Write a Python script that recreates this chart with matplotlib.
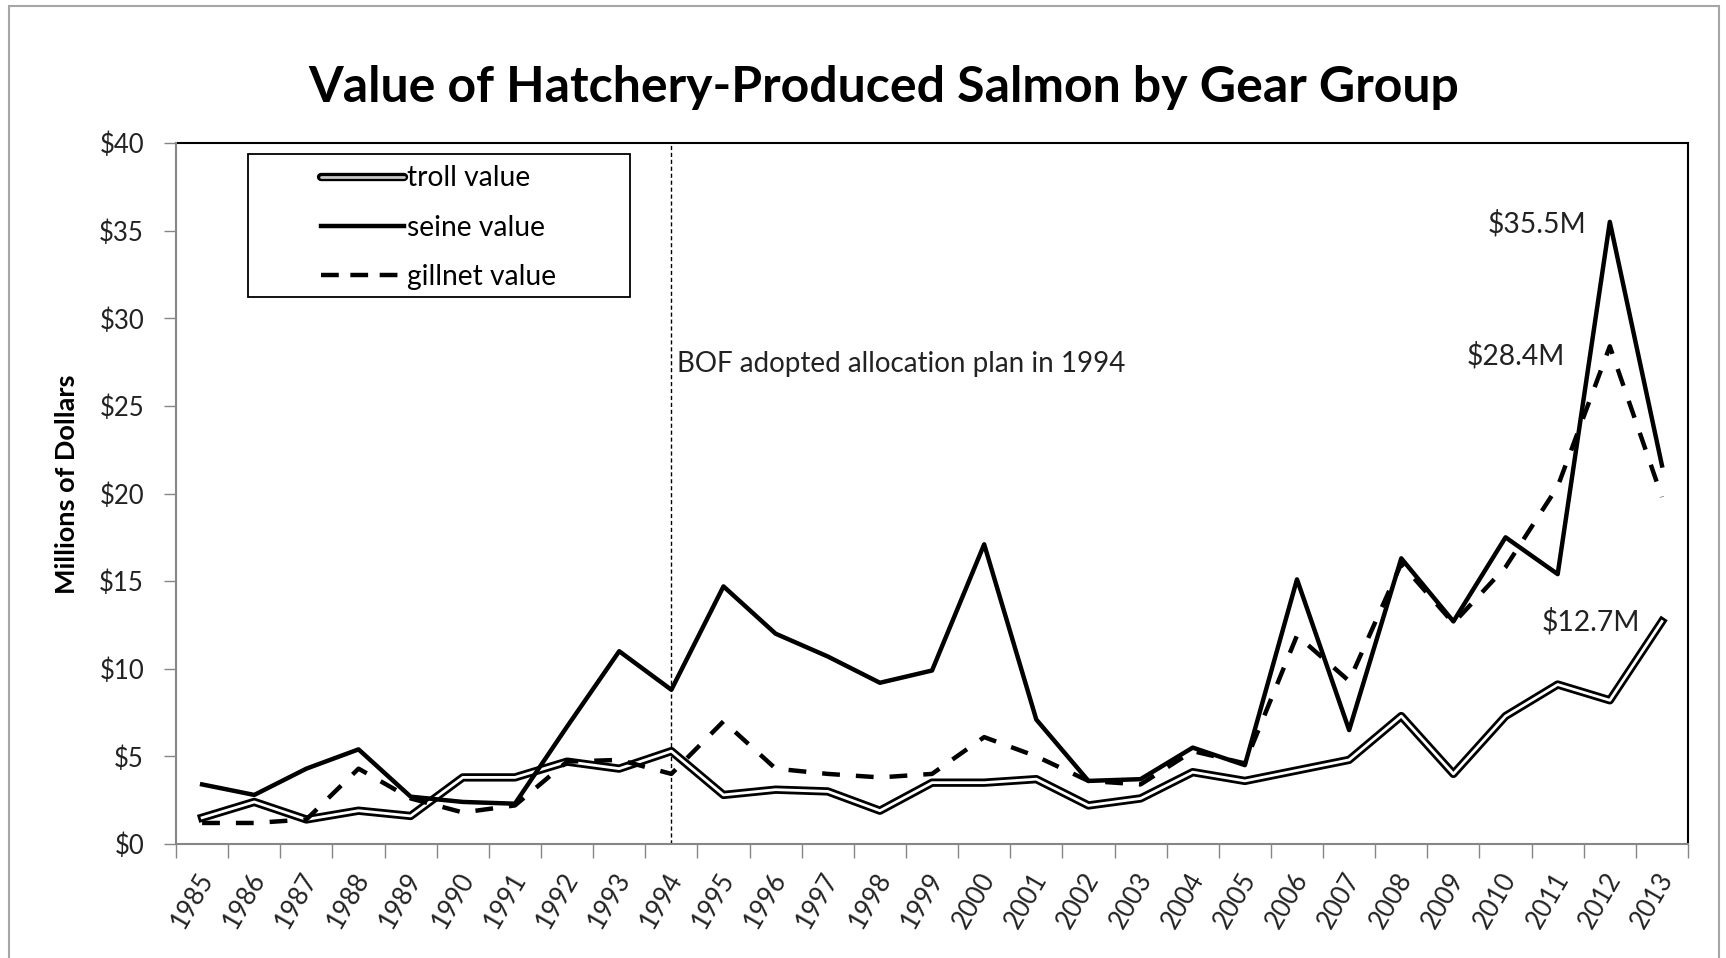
import numpy as np
import matplotlib
import matplotlib.pyplot as plt
import matplotlib.patheffects as pe
import matplotlib.transforms as mtransforms
from matplotlib.lines import Line2D
from matplotlib.patches import Rectangle
from matplotlib.ticker import FuncFormatter

matplotlib.use("Agg")

plt.rcParams["font.family"] = ["Lato", "DejaVu Sans"]

# Valor por año (millones de dólares)
years = [str(y) for y in range(1985, 2014)]
troll = [1.5, 2.4, 1.4, 1.9, 1.6, 3.8, 3.8, 4.7, 4.3, 5.3,
         2.8, 3.1, 3.0, 1.9, 3.5, 3.5, 3.7, 2.2, 2.6, 4.1,
         3.6, 4.2, 4.8, 7.3, 4.0, 7.3, 9.1, 8.2, 12.7]
seine = [3.4, 2.8, 4.3, 5.4, 2.7, 2.4, 2.3, 6.7, 11.0, 8.8,
         14.7, 12.0, 10.7, 9.2, 9.9, 17.1, 7.1, 3.6, 3.7, 5.5,
         4.5, 15.1, 6.5, 16.3, 12.7, 17.5, 15.4, 35.5, 21.6]
gillnet = [1.2, 1.2, 1.4, 4.3, 2.6, 1.8, 2.2, 4.7, 4.8, 4.0,
           7.0, 4.3, 4.0, 3.8, 4.0, 6.1, 5.0, 3.6, 3.4, 5.3,
           4.6, 11.9, 9.3, 16.0, 12.6, 15.8, 20.4, 28.4, 19.8]
plan_year = "1994"

x = np.arange(len(years))
fs_tick = 18.5
fs_text = 20.3

fig = plt.figure(figsize=(17.26, 9.58), dpi=100)
ax = fig.add_axes([0.1020, 0.1190, 0.9780 - 0.1020, 0.8507 - 0.1190])

# Borde exterior del gráfico
fig.patches.append(Rectangle((0.0052, -0.01), 0.9907, 1.0037, transform=fig.transFigure,
                             fill=False, edgecolor="#a6a6a6", linewidth=1.5))

# Serie troll: línea doble (borde negro, interior blanco)
troll_fx = [pe.Stroke(linewidth=6.0, foreground="black"), pe.Normal()]
ax.plot(x, troll, color="white", linewidth=2.0, path_effects=troll_fx, zorder=3)
ax.plot(x, gillnet, color="black", linewidth=3.2, dashes=(4, 3.6), zorder=4)
ax.plot(x, seine, color="black", linewidth=3.2, zorder=5)

# Línea del plan de asignación
ix = years.index(plan_year)
ax.axvline(ix, color="black", linewidth=1.0, linestyle=(0, (3, 2)), zorder=2)
ax.text(ix + 0.1, 27.4, "BOF adopted allocation plan in 1994", fontsize=20,
        ha="left", va="center", color="#222222")

# Etiquetas de valores máximos / finales
ax.annotate(f"${seine[27]}M", xy=(27, seine[27]), xytext=(-23, -2),
            textcoords="offset pixels", ha="right", va="center", fontsize=fs_text, color="#222222")
ax.annotate(f"${gillnet[27]}M", xy=(27, gillnet[27]), xytext=(-45, -9),
            textcoords="offset pixels", ha="right", va="center", fontsize=fs_text, color="#222222")
ax.annotate(f"${troll[28]}M", xy=(28, troll[28]), xytext=(-22, 0),
            textcoords="offset pixels", ha="right", va="center", fontsize=fs_text, color="#222222")

# Ejes
ax.set_xlim(-0.5, len(years) - 0.5)
ax.set_ylim(0, 40)
ax.set_yticks(np.arange(0, 41, 5))
ax.yaxis.set_major_formatter(FuncFormatter(lambda v, p: f"${v:.0f}"))
ax.tick_params(axis="y", length=9, width=1, color="#868686", labelsize=fs_tick,
               labelcolor="#222222", pad=14)

ax.set_xticks(np.arange(-0.5, len(years), 1))
ax.set_xticklabels([])
ax.set_xticks(x, minor=True)
ax.set_xticklabels(years, minor=True, rotation=60, ha="right", va="center",
                   rotation_mode="anchor", fontsize=fs_tick, color="#222222")
ax.tick_params(axis="x", which="major", length=10, width=1, color="#868686")
ax.tick_params(axis="x", which="minor", length=0, pad=22)
shift = mtransforms.ScaledTranslation(0.05, 0, fig.dpi_scale_trans)
for lbl in ax.get_xticklabels(minor=True):
    lbl.set_transform(lbl.get_transform() + shift)

for side in ("top", "right"):
    ax.spines[side].set_color("black")
    ax.spines[side].set_linewidth(1.5)
for side in ("left", "bottom"):
    ax.spines[side].set_color("#868686")
    ax.spines[side].set_linewidth(1.5)
    ax.spines[side].set_zorder(6)

# Leyenda
handles = [
    Line2D([], [], color="#c8c8c8", linewidth=2.0, solid_capstyle="round",
           path_effects=[pe.Stroke(linewidth=6.0, foreground="black", capstyle="round"), pe.Normal()]),
    Line2D([], [], color="black", linewidth=3.2),
    Line2D([], [], color="black", linewidth=3.2, dashes=(4, 2.6)),
]
ax.legend(handles, ["troll value", "seine value", "gillnet value"], loc="upper left",
          bbox_to_anchor=(0.0959, 0.968), frameon=False, borderpad=0, borderaxespad=0,
          handlelength=2.95, handletextpad=0.1, labelspacing=0.83, fontsize=fs_text)
ax.add_patch(Rectangle((0.0476, 0.7803), 0.3003 - 0.0476, 0.9843 - 0.7803,
                       transform=ax.transAxes, fill=False, edgecolor="black",
                       linewidth=1.3, zorder=7))

fig.text(0.512, 0.909, "Value of Hatchery-Produced Salmon by Gear Group",
         ha="center", va="center", fontsize=36, fontweight="bold", color="black")
fig.text(0.039, 0.495, "Millions of Dollars", rotation=90, ha="center", va="center",
         fontsize=19.5, fontweight="bold", color="black")

fig.savefig("out.png", dpi=100)
plt.close(fig)
